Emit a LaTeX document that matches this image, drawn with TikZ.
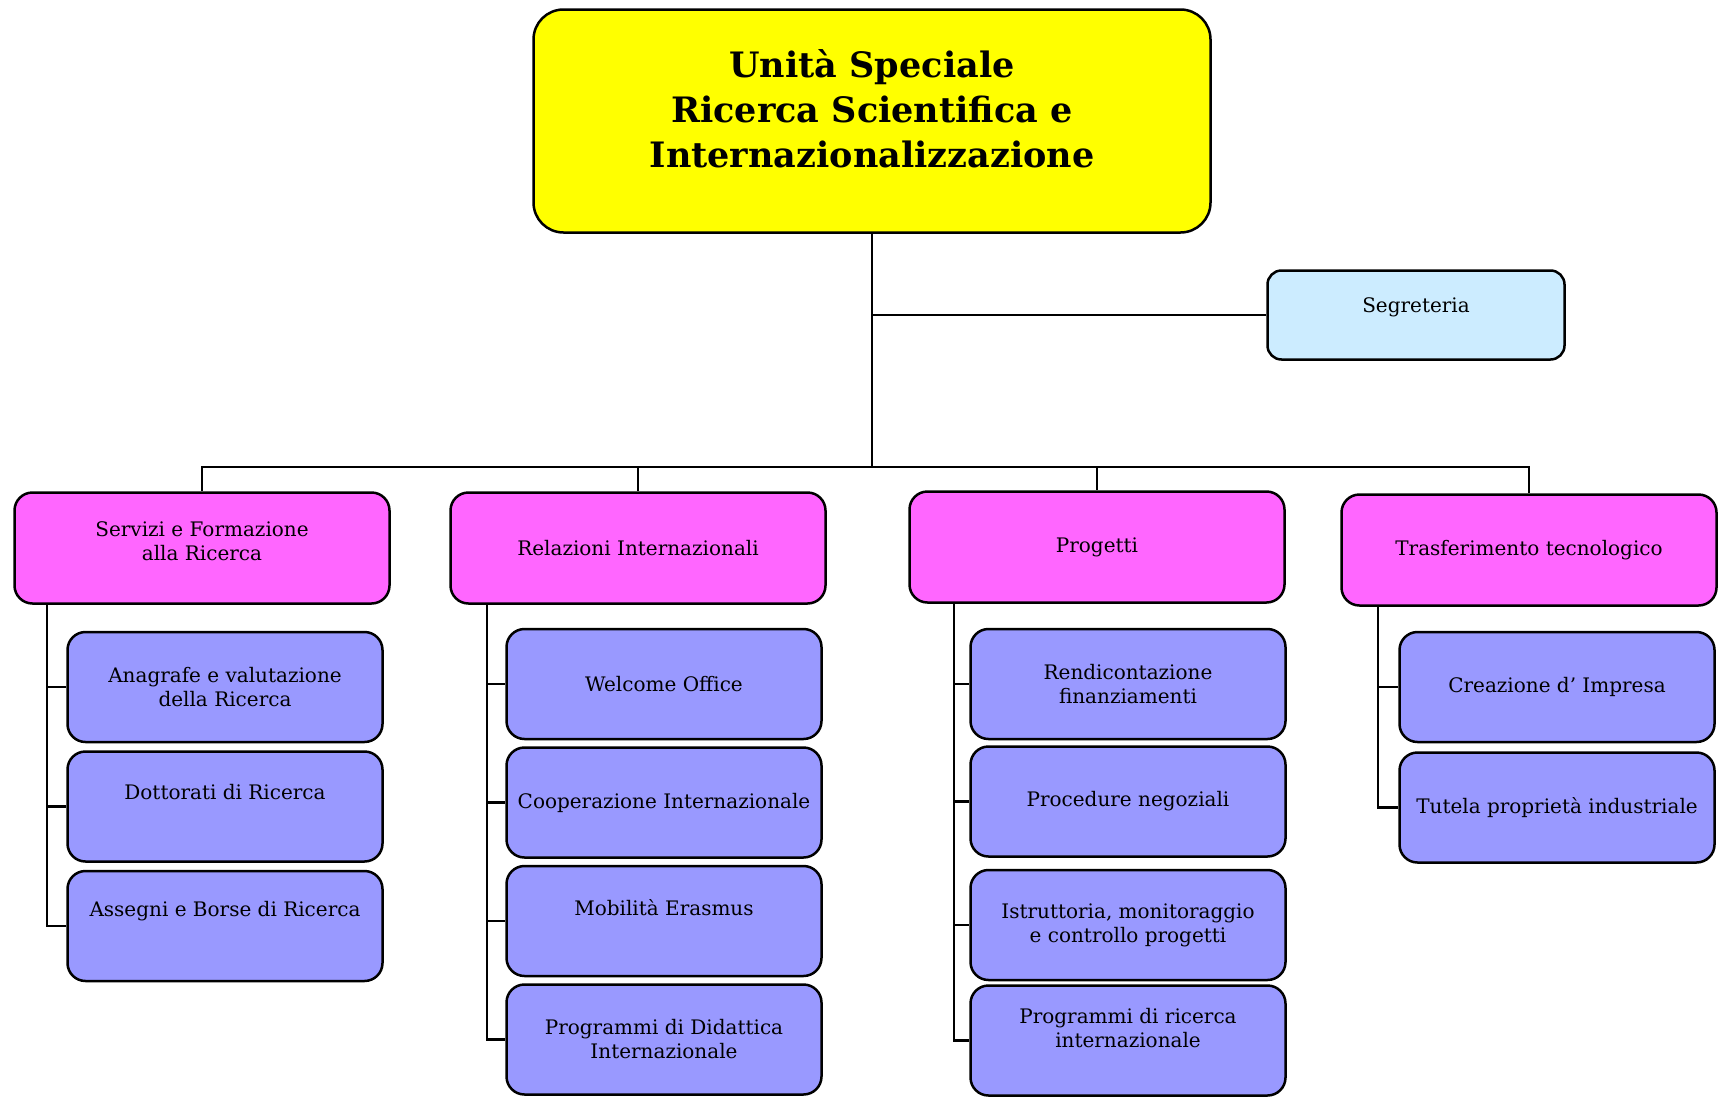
\documentclass[tikz,border=0pt]{standalone}
\usepackage{fontspec}
\setmainfont{DejaVu Serif}
\usetikzlibrary{positioning}
\definecolor{headyellow}{HTML}{FFFF00}
\definecolor{areapink}{HTML}{FF66FF}
\definecolor{officeblue}{HTML}{9999FF}
\definecolor{segrblue}{HTML}{CCECFF}
\begin{document}
\begin{tikzpicture}[x=1pt,y=-1pt,
  every node/.style={draw=black,line width=2.5pt,align=center,inner sep=0pt,
    font=\fontsize{20}{24}\selectfont},
  head/.style={fill=headyellow,rounded corners=30pt,minimum width=677pt,minimum height=223pt,
    font=\fontsize{35}{45}\selectfont\bfseries,text depth=25pt},
  segr/.style={fill=segrblue,rounded corners=14pt,minimum width=297pt,minimum height=89pt},
  area/.style={fill=areapink,rounded corners=18pt,minimum width=375pt,minimum height=111pt},
  office/.style={fill=officeblue,rounded corners=18pt,minimum width=315pt,minimum height=110pt},
  lift/.style={text depth=#1},
  conn/.style={line width=2.2pt}]
\useasboundingbox (0,0) rectangle (1723,1100);
% vertice
\node[head] (unita) at (872,121) {Unità Speciale\\Ricerca Scientifica e\\Internazionalizzazione};
\node[segr,lift=19pt] (segreteria) at (1416,315) {Segreteria};
% aree
\node[area,lift=14pt] (servizi) at (202,548) {Servizi e Formazione\\alla Ricerca};
\node[area] (relazioni) at (638,548) {Relazioni Internazionali};
\node[area] (progetti) at (1097,547) {Progetti};
\node[area] (trasferimento) at (1529,550) {Trasferimento tecnologico};
% uffici
\node[office] (anagrafe) at (225,687) {Anagrafe e valutazione\\della Ricerca};
\node[office,lift=29pt,below=7pt of anagrafe] (dottorati) {Dottorati di Ricerca};
\node[office,lift=35pt,below=7pt of dottorati] (assegni) {Assegni e Borse di Ricerca};
\node[office] (welcome) at (664,684) {Welcome Office};
\node[office,below=6pt of welcome] (cooperazione) {Cooperazione Internazionale};
\node[office,lift=27pt,below=6pt of cooperazione] (erasmus) {Mobilità Erasmus};
\node[office,below=6pt of erasmus] (didattica) {Programmi di Didattica\\Internazionale};
\node[office] (rendicontazione) at (1128,684) {Rendicontazione\\finanziamenti};
\node[office,below=5pt of rendicontazione] (procedure) {Procedure negoziali};
\node[office,below=11pt of procedure] (istruttoria) {Istruttoria, monitoraggio\\e controllo progetti};
\node[office,lift=26pt,below=3pt of istruttoria] (ricerca) {Programmi di ricerca\\internazionale};
\node[office] (impresa) at (1557,687) {Creazione d’ Impresa};
\node[office,below=8pt of impresa] (tutela) {Tutela proprietà industriale};
% collegamenti
\coordinate (bus) at (872,467);
\draw[conn] (unita) -- (bus);
\draw[conn] (unita.south |- segreteria.west) -- (segreteria.west);
\draw[conn] (bus) -| (servizi.north);
\draw[conn] (bus) -| (relazioni.north);
\draw[conn] (bus) -| (progetti.north);
\draw[conn] (bus) -| (trasferimento.north);
\draw[conn] ([xshift=34pt]servizi.south west) |- (anagrafe.west);
\draw[conn] ([xshift=34pt]servizi.south west) |- (dottorati.west);
\draw[conn] ([xshift=34pt]servizi.south west) |- (assegni.west);
\draw[conn] ([xshift=38pt]relazioni.south west) |- (welcome.west);
\draw[conn] ([xshift=38pt]relazioni.south west) |- (cooperazione.west);
\draw[conn] ([xshift=38pt]relazioni.south west) |- (erasmus.west);
\draw[conn] ([xshift=38pt]relazioni.south west) |- (didattica.west);
\draw[conn] ([xshift=46pt]progetti.south west) |- (rendicontazione.west);
\draw[conn] ([xshift=46pt]progetti.south west) |- (procedure.west);
\draw[conn] ([xshift=46pt]progetti.south west) |- (istruttoria.west);
\draw[conn] ([xshift=46pt]progetti.south west) |- (ricerca.west);
\draw[conn] ([xshift=38pt]trasferimento.south west) |- (impresa.west);
\draw[conn] ([xshift=38pt]trasferimento.south west) |- (tutela.west);
\end{tikzpicture}
\end{document}
